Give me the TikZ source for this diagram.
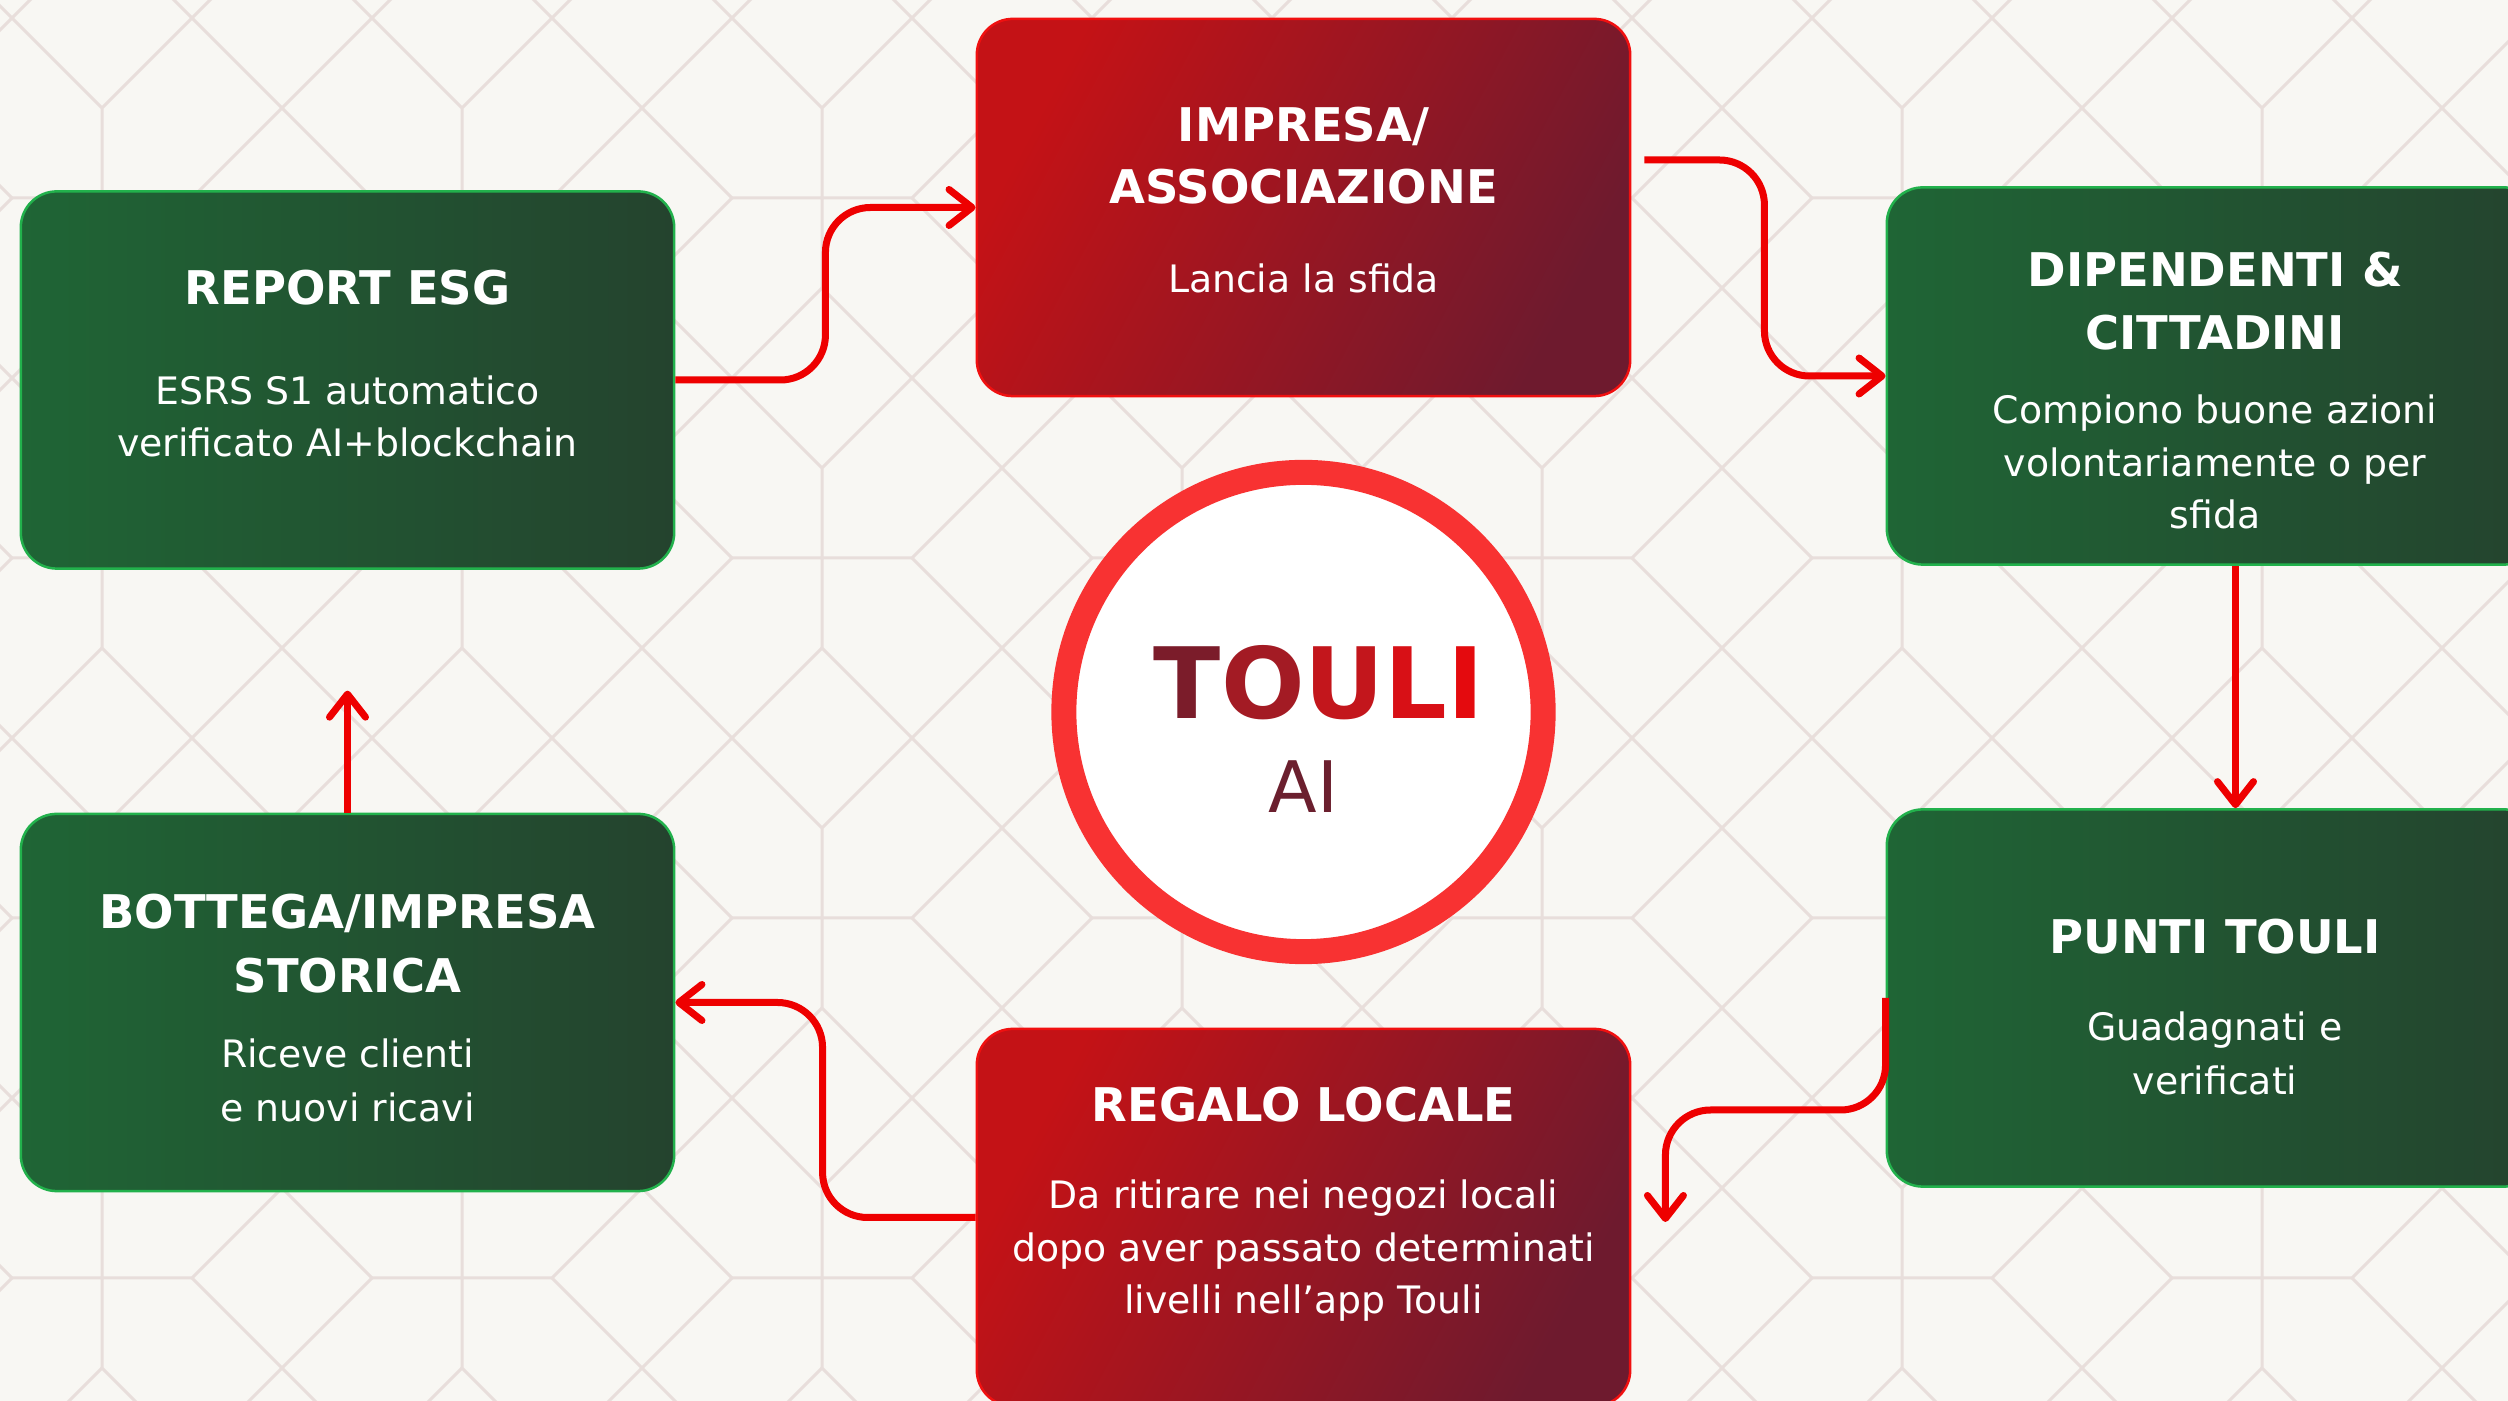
\documentclass[tikz,border=0pt]{standalone}
\usepackage{fontspec}
\setmainfont{DejaVu Sans}
\usetikzlibrary{arrows.meta,calc}
\definecolor{bgc}{HTML}{F8F7F3}
\definecolor{patc}{HTML}{E8DEDB}
\definecolor{gL}{HTML}{1F6535}
\definecolor{gR}{HTML}{24432E}
\definecolor{gB}{HTML}{22B14C}
\definecolor{rTL}{HTML}{C41216}
\definecolor{rBR}{HTML}{6E1A2E}
\definecolor{rB}{HTML}{F01010}
\definecolor{arr}{HTML}{EE0000}
\definecolor{ring}{HTML}{F83232}
\definecolor{aic}{HTML}{6B1F2E}
\definecolor{tA}{HTML}{7B1C2A}
\definecolor{tB}{HTML}{A31B24}
\definecolor{tC}{HTML}{C3161C}
\definecolor{tD}{HTML}{D81016}
\definecolor{tE}{HTML}{E40A0E}
\begin{document}
\begin{tikzpicture}[x=0.01cm,y=-0.01cm,
  pat/.style={draw=patc, line width=0.03cm},
  gbox/.style={rectangle, rounded corners=0.36cm, minimum width=6.53cm, minimum height=3.77cm, inner sep=0pt, draw=gB, line width=0.025cm, left color=gL, right color=gR},
  rbox/.style={rectangle, rounded corners=0.36cm, minimum width=6.53cm, minimum height=3.77cm, inner sep=0pt, draw=rB, line width=0.025cm, top color=rTL, bottom color=rBR, shading angle=62},
  ttl/.style={anchor=base, text=white, inner sep=0pt, font=\bfseries\fontsize{13.2}{13.2}\selectfont},
  bdy/.style={anchor=base, text=white, inner sep=0pt, font=\fontsize{10.75}{10.75}\selectfont},
  conn/.style={draw=arr, line width=0.07cm, rounded corners=0.45cm, -{Straight Barb[length=0.23cm,width=0.36cm,round]}},
]
\useasboundingbox (0,0) rectangle (2508,1401);
\clip (0,0) rectangle (2508,1401);
\fill[bgc] (0,0) rectangle (2508,1401);
% background pattern
\foreach \i in {-1,...,7}{
  \foreach \j in {-1,...,4}{
    \pgfmathsetmacro\cx{102+360*\i}
    \pgfmathsetmacro\cy{198+360*\j}
    \draw[pat] (\cx-90,\cy) -- (\cx+90,\cy)
      (\cx,\cy-90) -- (\cx,\cy+90)
      (\cx,\cy-90) -- (\cx+270,\cy-360)
      (\cx,\cy-90) -- (\cx-270,\cy-360)
      (\cx+90,\cy) -- (\cx+360,\cy-270)
      (\cx,\cy+90) -- (\cx+270,\cy+360);
  }
}
% boxes
\node[gbox] (report) at (347.5,380) {};
\node[rbox] (impresa) at (1303.5,207.5) {};
\node[gbox] (dip) at (2213.5,376) {};
\node[gbox] (punti) at (2213.5,998) {};
\node[rbox] (regalo) at (1303.5,1217.5) {};
\node[gbox] (bottega) at (347.5,1002.5) {};
% hub
\node[circle, minimum size=4.79cm, inner sep=0pt, fill=white, draw=ring, line width=0.25cm] (hub) at (1303.5,712) {};
% connectors
\coordinate (c2s) at ($(impresa.east)+(13,-47.5)$);
\coordinate (c4e) at ($(regalo.east)+(34,4.5)$);
\coordinate (c6e) at ($(bottega.north)+(0,-122)$);
\draw[conn] (report.east) -- ++(150,0) |- (impresa.west);
\draw[conn] (c2s) -- ++(120,0) |- (dip.west);
\draw[conn] ($(dip.south)+(22,0)$) -- ($(punti.north)+(22,0)$);
\draw[conn] (punti.west) -- ++(0,112) -| (c4e);
\draw[conn] (regalo.west) -- ++(-153,0) |- (bottega.east);
\draw[conn] (bottega.north) -- (c6e);
% texts
\node[ttl] (report-t) at (347.5,305) {REPORT ESG};
\node[bdy] (report-b1) at (347.5,405) {ESRS S1 automatico};
\node[bdy] (report-b2) at (347.5,457) {verificato AI+blockchain};

\node[ttl] (impresa-t1) at (1303.5,142) {IMPRESA/};
\node[ttl] (impresa-t2) at (1303.5,204) {ASSOCIAZIONE};
\node[bdy] (impresa-b1) at (1303.5,293) {Lancia la sfida};

\node[ttl] (dip-t1) at (2215,287) {DIPENDENTI \&};
\node[ttl] (dip-t2) at (2215,350) {CITTADINI};
\node[bdy] (dip-b1) at (2215,424) {Compiono buone azioni};
\node[bdy] (dip-b2) at (2215,476.5) {volontariamente o per};
\node[bdy] (dip-b3) at (2215,529) {sfida};

\node[ttl] (punti-t) at (2215,954) {PUNTI TOULI};
\node[bdy] (punti-b1) at (2215,1041) {Guadagnati e};
\node[bdy] (punti-b2) at (2215,1094.5) {verificati};

\node[ttl] (regalo-t) at (1303.5,1122) {REGALO LOCALE};
\node[bdy] (regalo-b1) at (1303.5,1209) {Da ritirare nei negozi locali};
\node[bdy] (regalo-b2) at (1303.5,1262) {dopo aver passato determinati};
\node[bdy] (regalo-b3) at (1303.5,1314) {livelli nell’app Touli};

\node[ttl] (bottega-t1) at (347.5,929) {BOTTEGA/IMPRESA};
\node[ttl] (bottega-t2) at (347.5,993) {STORICA};
\node[bdy] (bottega-b1) at (347.5,1068) {Riceve clienti};
\node[bdy] (bottega-b2) at (347.5,1121.5) {e nuovi ricavi};

\node[anchor=base, inner sep=0pt, font=\bfseries\fontsize{28}{28}\selectfont] (touli) at (1319,719) {\textcolor{tA}{T}\textcolor{tB}{O}\textcolor{tC}{U}\textcolor{tD}{L}\textcolor{tE}{I}};
\node[anchor=base, inner sep=0pt, text=aic, font=\fontsize{20.2}{20.2}\selectfont] (ai) at (1303.5,812.5) {AI};
\end{tikzpicture}
\end{document}
